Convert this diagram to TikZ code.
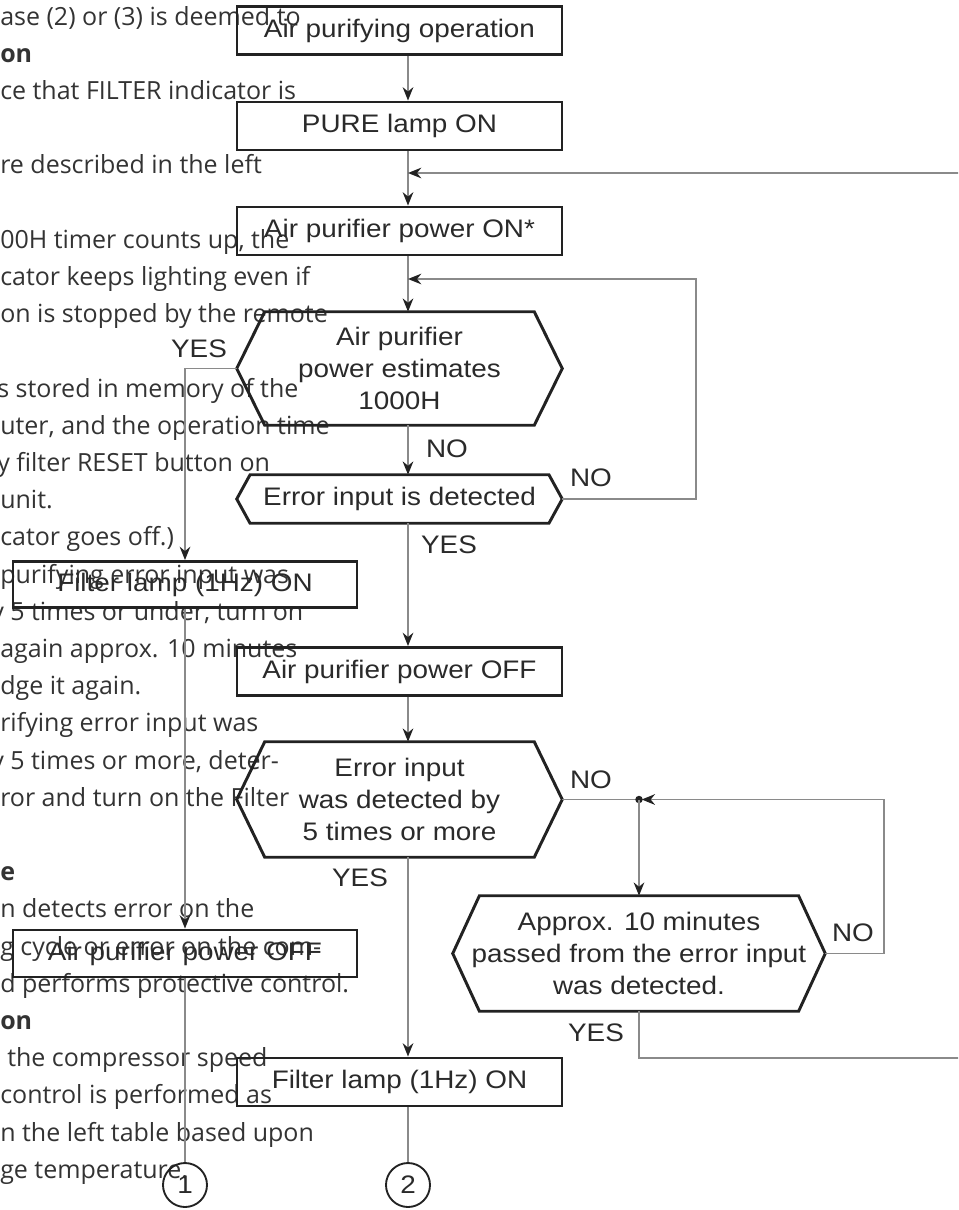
\documentclass[tikz,border=0pt]{standalone}
\usepackage{fontspec}
\setmainfont{Liberation Sans}
\newfontfamily\flowfont[FakeStretch=1.1]{Liberation Sans}
\newfontfamily\pagefont{Open Sans}
\usetikzlibrary{arrows.meta,calc}
\definecolor{wireink}{HTML}{8A8A8A}
\definecolor{frameink}{HTML}{222222}
\definecolor{textink}{HTML}{2A2A2A}
\definecolor{pageink}{HTML}{333333}
\tikzset{
  proc/.style={rectangle, draw=frameink, line width=2.2pt, minimum width=243.75pt,
               minimum height=36pt, inner sep=0pt, align=center,
               font=\flowfont\fontsize{19}{24}\selectfont, text=textink},
  dec/.style={rectangle, minimum width=243.75pt, inner sep=0pt, align=center,
              font=\flowfont\fontsize{19}{24}\selectfont, text=textink},
  frame/.style={draw=frameink, line width=2.2pt, line join=miter},
  flow/.style={draw=wireink, line width=1.2pt,
               -{Stealth[length=10pt,width=8pt,color=frameink]}},
  plain/.style={draw=wireink, line width=1.2pt},
  lbl/.style={font=\flowfont\fontsize{19}{24}\selectfont, text=textink, inner sep=0pt},
  conn/.style={circle, draw=frameink, line width=1.4pt, minimum size=33pt, inner sep=0pt,
               font=\flowfont\fontsize{19}{24}\selectfont, text=textink},
  bgline/.style={anchor=base west, inner sep=0pt,
                 font=\pagefont\fontsize{18.75}{22}\selectfont, text=pageink}
}
\newcommand{\hexframe}[2]{%
  \draw[frame] (#1.west) -- ([xshift=#2]#1.north west) -- ([xshift=-#2]#1.north east)
    -- (#1.east) -- ([xshift=-#2]#1.south east) -- ([xshift=#2]#1.south west) -- cycle;}

\begin{document}
\begin{tikzpicture}[x=0.75pt,y=-0.75pt]
\useasboundingbox (0,0) rectangle (958,1210);
\clip (0,0) rectangle (958,1210);

\foreach \k/\x/\t in {0/0/{ase (2) or (3) is deemed to}, 1/0/{\bfseries on},
    2/0/{ce that FILTER indicator is}, 4/0/{re described in the left},
    6/0/{00H timer counts up, the}, 7/0/{cator keeps lighting even if},
    8/0/{on is stopped by the remote}, 10/-3/{s stored in memory of the},
    11/0/{uter, and the operation time}, 12/-3/{y filter RESET button on},
    13/0/{unit.}, 14/0/{cator goes off.)}, 15/0/{purifying error input was},
    16/-9/{y 5 times or under, turn on}, 17/0/{again approx. 10 minutes},
    18/0/{dge it again.}, 19/0/{rifying error input was},
    20/-9/{y 5 times or more, deter-}, 21/0/{ror and turn on the Filter},
    23/0/{\bfseries e}, 24/0/{n detects error on the},
    25/0/{g cycle or error on the com-}, 26/0/{d performs protective control.},
    27/0/{\bfseries on}, 28/7/{the compressor speed},
    29/0/{control is performed as}, 30/0/{n the left table based upon},
    31/0/{ge temperature.}}
  \node[bgline] (bg\k) at (\x,{25+37.2*\k}) {\t};

\coordinate (col) at (408,0);

\node[proc] (oper) at (399.5,30.5) {Air purifying operation};
\node[proc] (pure) at (399.5,126) {PURE lamp ON};
\node[proc] (pwron) at (399.5,231) {Air purifier power ON*};
\node[dec, minimum height=84.75pt] (estim) at (399.5,368.5) {Air purifier\\power estimates\\1000H};
\node[dec, minimum height=36pt] (error) at (399.5,499) {Error input is detected};
\node[proc] (pwroff) at (399.5,671.5) {Air purifier power OFF};
\node[dec, minimum height=86.25pt] (five) at (399.5,799.5) {Error input\\was detected by\\5 times or more};
\node[dec, minimum width=279pt, minimum height=86.25pt] (ten) at (639,953.5)
  {Approx. 10 minutes\\passed from the error input\\was detected.};
\node[proc] (filter) at (399.5,1082) {Filter lamp (1Hz) ON};
\node[conn] (two) at (408,1185) {2};

\node[proc, minimum width=258pt, minimum height=34.5pt] (filterL) at (185,584.5) {Filter lamp (1Hz) ON};
\node[proc, minimum width=258pt, minimum height=35.25pt] (pwroffL) at (185,953.5) {Air purifier power OFF};
\node[conn] (one) at (185,1185) {1};

\hexframe{estim}{21pt}
\hexframe{error}{10pt}
\hexframe{five}{21pt}
\hexframe{ten}{20pt}

\node[lbl] (yesA) at (199,349) {YES};
\node[lbl] (noA) at (447,449) {NO};
\node[lbl] (noB) at (591,478) {NO};
\node[lbl] (yesB) at (449,545) {YES};
\node[lbl] (noC) at (591,780) {NO};
\node[lbl] (yesC) at (360,878) {YES};
\node[lbl] (noD) at (853,933) {NO};
\node[lbl] (yesD) at (596,1033) {YES};

\coordinate (backin) at (975,173);
\coordinate (backout) at (975,1058);
\coordinate (loopc) at (696,279);
\coordinate (jn) at (five.east -| ten.north);
\coordinate (noturn) at (884,799.5);

\draw[flow] (oper.south -| col) -- (pure.north -| col);
\draw[flow] (pure.south -| col) -- (pwron.north -| col);
\draw[flow] (backin) -- (backin -| col);
\draw[flow] (pwron.south -| col) -- (estim.north -| col);
\draw[flow] (error.east) -| (loopc) -- (loopc -| col);
\draw[flow] (estim.south -| col) -- (error.north -| col);
\draw[flow] (estim.west) -| (filterL.north);
\draw[flow] (error.south -| col) -- (pwroff.north -| col);
\draw[flow] (pwroff.south -| col) -- (five.north -| col);
\draw[plain] (five.east) -- (jn);
\fill[frameink] (jn) circle (2.8pt);
\draw[flow] (jn) -- (ten.north);
\draw[flow, shorten >=2pt] (ten.east) -| (noturn) -- (jn);
\draw[plain] (ten.south) |- (backout);
\draw[flow] (five.south -| col) -- (filter.north -| col);
\draw[plain] (filter.south -| col) -- (two);
\draw[flow] (filterL) -- (pwroffL);
\draw[plain] (pwroffL) -- (one);
\end{tikzpicture}
\end{document}
